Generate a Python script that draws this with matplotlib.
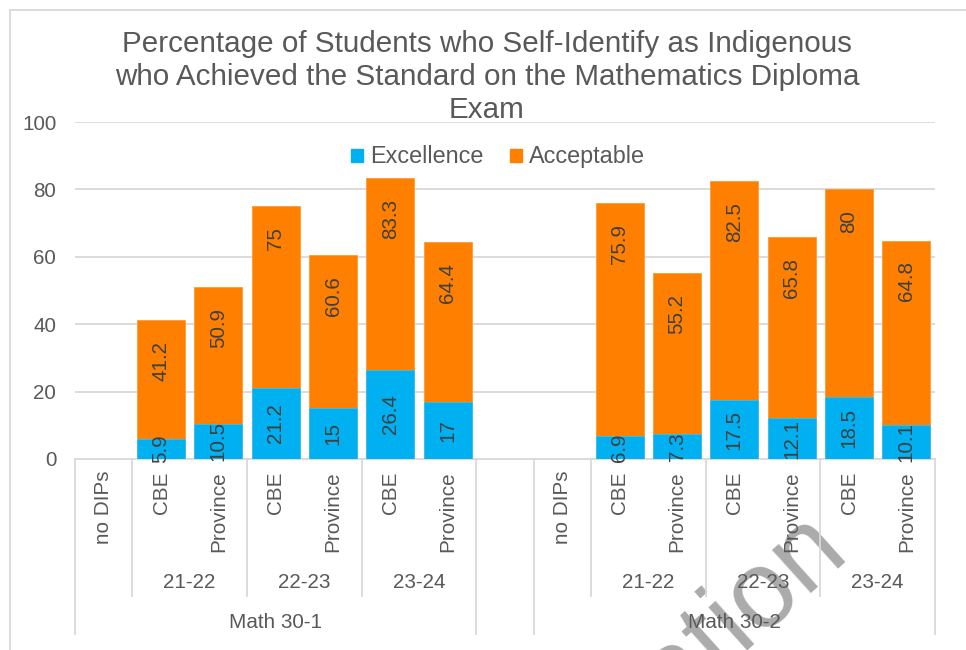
import matplotlib
matplotlib.use("Agg")
import matplotlib.pyplot as plt
from matplotlib.patches import Patch
from matplotlib.lines import Line2D
from matplotlib.transforms import blended_transform_factory

plt.rcParams['font.family'] = ['Liberation Sans', 'DejaVu Sans']

# ---------------- data ----------------
title = ("Percentage of Students who Self-Identify as Indigenous\n"
         "who Achieved the Standard on the Mathematics Diploma\nExam")
courses = ["Math 30-1", "Math 30-2"]
periods = ["21-22", "22-23", "23-24"]
sources = ["CBE", "Province"]
no_dips_label = "no DIPs"
series_names = ["Excellence", "Acceptable"]

excellence_math301 = [5.9, 10.5, 21.2, 15, 26.4, 17]
acceptable_math301 = [41.2, 50.9, 75, 60.6, 83.3, 64.4]
excellence_math302 = [6.9, 7.3, 17.5, 12.1, 18.5, 10.1]
acceptable_math302 = [75.9, 55.2, 82.5, 65.8, 80, 64.8]

excellence = [excellence_math301, excellence_math302]
acceptable = [acceptable_math301, acceptable_math302]

y_ticks = [0, 20, 40, 60, 80, 100]
watermark = "Consultation"

# ---------------- style ----------------
BLUE = "#00B0F0"
ORANGE = "#FF8000"
TXT = "#595959"
LBL = "#404040"
GRID = "#D9D9D9"
W, H = 966, 650

def fx(px):
    return px / W

def fy(py):
    return 1 - py / H

fig = plt.figure(figsize=(W / 100, H / 100), dpi=100)
fig.patch.set_facecolor("white")

# watermark (behind everything)
fig.text(fx(850), fy(553), watermark, rotation=42, rotation_mode="anchor",
         ha="right", va="baseline", fontsize=79, color="#ABABAB", zorder=-5)

ax = fig.add_axes([fx(75), fy(459), fx(935) - fx(75), fy(122) - fy(459)])
ax.patch.set_visible(False)

n_slots = 15
group_len = 7  # no DIPs + 6 bars
bar_w = 0.84

bar_x, exc_v, acc_v, cat_x, cat_lab = [], [], [], [], []
group_starts = []
for ci, course in enumerate(courses):
    start = ci * (group_len + 1)
    group_starts.append(start)
    cat_x.append(start)
    cat_lab.append(no_dips_label)
    k = 0
    for pi, per in enumerate(periods):
        for si, src in enumerate(sources):
            x = start + 1 + k
            bar_x.append(x)
            exc_v.append(excellence[ci][k])
            acc_v.append(acceptable[ci][k])
            cat_x.append(x)
            cat_lab.append(src)
            k += 1

ax.bar(bar_x, acc_v, width=bar_w, color=ORANGE, edgecolor="#FF9A33", linewidth=0.6,
       zorder=2, label=series_names[1])
ax.bar(bar_x, exc_v, width=bar_w, color=BLUE, edgecolor="#33C0F3", linewidth=0.6,
       zorder=3, label=series_names[0])

for x, e, a in zip(bar_x, exc_v, acc_v):
    ax.text(x, e / 2, f"{e:g}", rotation=90, ha="center", va="center",
            fontsize=14.9, color=LBL, zorder=6, clip_on=False)
    ax.annotate(f"{a:g}", xy=(x, a), xytext=(0, -21), textcoords="offset pixels",
                rotation=90, ha="center", va="top", fontsize=14.9, color=LBL, zorder=6)

ax.set_xlim(-0.5, n_slots - 0.5)
ax.set_ylim(0, 100)
ax.set_yticks(y_ticks)
ax.set_xticks([])
ax.tick_params(axis="y", length=0, pad=13.5, labelsize=14.9, labelcolor=TXT)
ax.yaxis.grid(True, color=GRID, linewidth=1.3, zorder=0)
ax.set_axisbelow(True)
for s in ["top", "right", "left"]:
    ax.spines[s].set_visible(False)
ax.spines["bottom"].set_color(GRID)
ax.spines["bottom"].set_linewidth(1.3)
ax.spines["bottom"].set_zorder(1)

# multi-level category axis
T = blended_transform_factory(ax.transData, fig.transFigure)
for x, lab in zip(cat_x, cat_lab):
    ax.text(x, fy(471), lab, transform=T, rotation=90, ha="center", va="top",
            fontsize=14.9, color=TXT, clip_on=False)

for ci, course in enumerate(courses):
    start = group_starts[ci]
    for pi, per in enumerate(periods):
        cx = start + 1 + 2 * pi + 0.5
        ax.text(cx, fy(582), per, transform=T, ha="center", va="center",
                fontsize=14.9, color=TXT, clip_on=False)
    ax.text(start + (group_len - 1) / 2, fy(622), course, transform=T,
            ha="center", va="center", fontsize=14.9, color=TXT, clip_on=False)
    # separators
    for b in [start - 0.5, start + group_len - 0.5]:
        fig.add_artist(Line2D([b, b], [fy(459), fy(634)], transform=T,
                              color=GRID, linewidth=1.3))
    for pi in range(len(periods)):
        b = start + 0.5 + 2 * pi
        fig.add_artist(Line2D([b, b], [fy(459), fy(596)], transform=T,
                              color=GRID, linewidth=1.3))

# chart border
fig.add_artist(Line2D([fx(10), fx(10)], [fy(10), 0], transform=fig.transFigure,
                      color=GRID, linewidth=1.3))
fig.add_artist(Line2D([fx(10), 1], [fy(10), fy(10)], transform=fig.transFigure,
                      color=GRID, linewidth=1.3))

# title
fig.text(fx(487), fy(77), title, ha="center", va="center", fontsize=21.3,
         color=TXT, linespacing=1.22)

# legend
handles = [Patch(color=BLUE, label=series_names[0]),
           Patch(color=ORANGE, label=series_names[1])]
ax.legend(handles=handles, loc="center", bbox_to_anchor=(fx(498), fy(157)),
          bbox_transform=fig.transFigure, ncol=2, frameon=False, fontsize=16.8,
          handlelength=0.5, handleheight=0.5, handletextpad=0.3,
          columnspacing=1.15, labelcolor=TXT, borderpad=0)

fig.savefig("out.png", dpi=100)
